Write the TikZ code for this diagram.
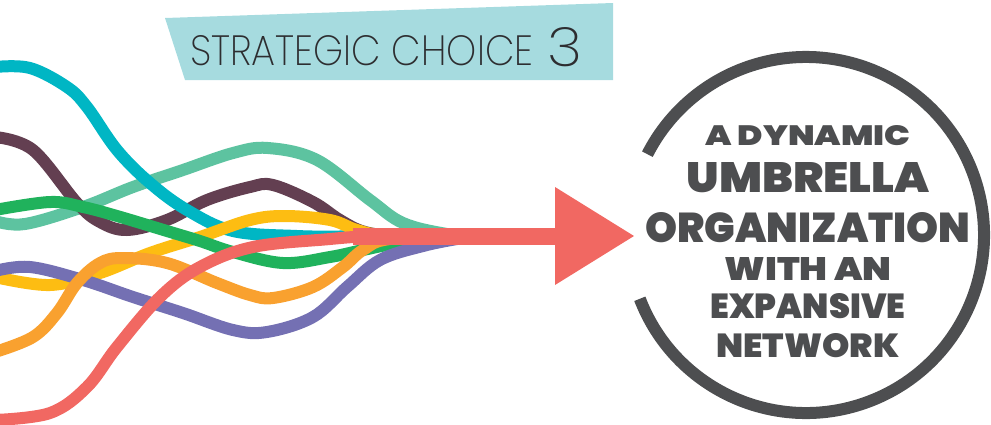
\documentclass[tikz,border=0pt]{standalone}
\usepackage{fontspec}
\usepackage{graphicx}
\newfontfamily\heavyFont{Poppins Black}
\newfontfamily\lightFont{Poppins ExtraLight}
\definecolor{bannerColor}{RGB}{166,219,223}
\definecolor{bannerInk}{RGB}{45,45,48}
\definecolor{ringColor}{RGB}{77,78,80}
\definecolor{tealColor}{RGB}{0,182,196}
\definecolor{plumColor}{RGB}{99,63,81}
\definecolor{mintColor}{RGB}{93,195,160}
\definecolor{greenColor}{RGB}{32,178,92}
\definecolor{yellowColor}{RGB}{253,189,18}
\definecolor{purpleColor}{RGB}{116,112,179}
\definecolor{orangeColor}{RGB}{249,161,47}
\definecolor{redColor}{RGB}{241,104,98}
\tikzstyle{canvas} = [x = 1pt, y = -1pt]
\tikzstyle{strandStyle} = [line width = 12pt, line join = round]
\tikzstyle{ringStyle} = [color=ringColor, line width = 12pt]
\tikzstyle{ringText} = [color=ringColor, anchor=base, inner sep=0pt, font=\heavyFont]
\tikzstyle{bannerText} = [color=bannerInk, anchor=base west, inner sep=0pt, font=\lightFont]
\newcommand{\strand}[2]{\draw [strandStyle, color=#1] plot [smooth, tension=.6] coordinates {#2};}
\newcommand{\ringLine}[5]{\node [ringText] (#1) at (808, #2) {\resizebox{#3pt}{#4pt}{#5}};}

\begin{document}
\begin{tikzpicture}[canvas]
  \useasboundingbox (0,0) rectangle (991,424);
  \clip (0,0) rectangle (991,424);

  % banner
  \fill [bannerColor] (165,18) -- (613,3) -- (613,80) -- (185,80) -- cycle;
  \node [bannerText] (strategic) at (190,65) {\resizebox{343pt}{30pt}{STRATEGIC CHOICE}};
  \node [bannerText] (choiceNumber) at (547,66) {\resizebox{35pt}{39pt}{3}};

  % strands
  \strand{mintColor}{(-5,221) (25,224) (83,207) (133,187) (183,170) (233,153) (268,148) (317,160) (370,200) (403,223) (447,234) (480,236.5)}
  \strand{plumColor}{(-5,137) (33,150) (77,203) (100,222) (127,230) (167,220) (207,200) (250,187) (273,185) (313,202) (340,220) (365,232) (400,236) (470,236.5)}
  \strand{tealColor}{(-5,67) (30,68) (67,87) (87,107) (117,150) (150,183) (187,210) (233,231) (297,236) (350,236.5) (470,236.5)}
  \strand{yellowColor}{(-5,277) (50,285) (100,273) (150,253) (200,237) (250,220) (285,216) (330,220) (357,230) (385,235) (470,236.5)}
  \strand{greenColor}{(-5,210) (50,202) (83,207) (117,216) (167,231) (200,241) (233,252) (283,263) (330,257) (363,250) (400,243) (470,236.5)}
  \strand{purpleColor}{(-5,271) (30,267) (83,280) (133,297) (183,313) (233,330) (267,332) (313,317) (347,287) (380,260) (423,246) (463,238) (480,236.5)}
  \strand{orangeColor}{(-5,352) (33,337) (57,313) (77,283) (100,263) (123,258) (167,263) (217,283) (250,295) (273,298) (313,287) (343,267) (363,250) (390,239) (470,236.5)}
  \strand{redColor}{(-5,420) (50,413) (87,387) (117,347) (160,297) (200,267) (253,247) (330,239) (360,236.5)}

  % arrow
  \fill [redColor] (353,228) rectangle (556,245);
  \fill [redColor] (555,187) -- (634,236) -- (555,285) -- cycle;

  % ring
  \draw [ringStyle] (806,235) ++(159:178) arc [start angle=159, end angle=-153, radius=178];
  \ringLine{dynamic}{145}{205}{20}{A DYNAMIC}
  \ringLine{umbrella}{192}{243}{30}{UMBRELLA}
  \ringLine{organization}{242}{325}{30}{ORGANIZATION}
  \ringLine{withAn}{280}{167}{23}{WITH AN}
  \ringLine{expansive}{318}{195}{25}{EXPANSIVE}
  \ringLine{network}{357}{183}{24}{NETWORK}
\end{tikzpicture}
\end{document}
